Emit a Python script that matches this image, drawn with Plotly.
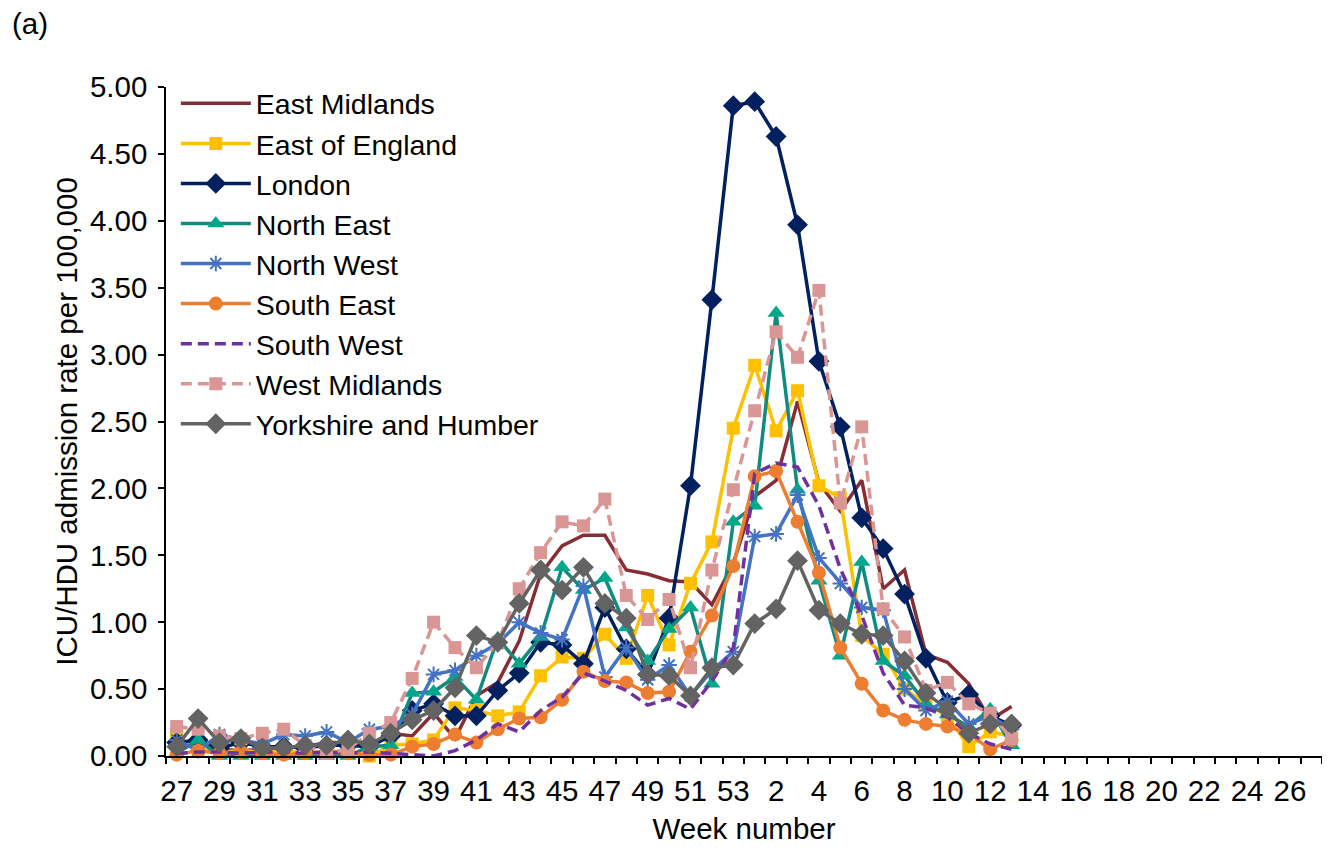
import plotly.graph_objects as go

# Week categories: weeks 27-53 (2020) then weeks 1-27 (2021)
weeks_2020 = list(range(27, 54))
weeks_2021 = list(range(1, 28))
cat_ids = [f"2020-W{w}" for w in weeks_2020] + [f"2021-W{w}" for w in weeks_2021]
week_nums = weeks_2020 + weeks_2021
labeled_weeks_2020 = list(range(27, 54, 2))
labeled_weeks_2021 = list(range(2, 27, 2))

# Data: weeks 27 (2020) to 13 (2021)
east_midlands = [0.05, 0.10, 0.05, 0.04, 0.05, 0.06, 0.07, 0.10, 0.10, 0.06,
                 0.17, 0.15, 0.32, 0.13, 0.45, 0.55, 0.86, 1.36, 1.57, 1.65,
                 1.65, 1.39, 1.36, 1.31, 1.30, 1.13, 1.44, 1.94, 2.06, 2.65,
                 2.04, 1.83, 2.06, 1.25, 1.39, 0.76, 0.70, 0.54, 0.27, 0.37]
east_of_england = [0.15, 0.05, 0.03, 0.04, 0.03, 0.04, 0.02, 0.04, 0.03, 0.00,
                   0.08, 0.09, 0.12, 0.36, 0.34, 0.30, 0.33, 0.60, 0.74, 0.73,
                   0.91, 0.73, 1.20, 0.83, 1.29, 1.60, 2.45, 2.92, 2.43, 2.73,
                   2.02, 1.93, 0.90, 0.76, 0.50, 0.39, 0.30, 0.07, 0.18, 0.15]
london = [0.10, 0.12, 0.06, 0.10, 0.07, 0.07, 0.06, 0.08, 0.08, 0.07,
          0.15, 0.34, 0.39, 0.30, 0.30, 0.49, 0.62, 0.85, 0.83, 0.69,
          1.11, 0.80, 0.61, 1.03, 2.02, 3.41, 4.86, 4.89, 4.63, 3.97,
          2.95, 2.46, 1.78, 1.55, 1.21, 0.73, 0.40, 0.46, 0.30, 0.23]
north_east = [0.02, 0.12, 0.00, 0.00, 0.00, 0.00, 0.00, 0.00, 0.00, 0.07,
              0.08, 0.47, 0.48, 0.59, 0.42, 0.88, 0.69, 0.89, 1.41, 1.24,
              1.33, 0.96, 0.71, 0.95, 1.11, 0.54, 1.75, 1.87, 3.31, 1.99,
              1.31, 0.75, 1.45, 0.71, 0.60, 0.39, 0.31, 0.22, 0.35, 0.08]
north_west = [0.12, 0.04, 0.16, 0.12, 0.09, 0.16, 0.15, 0.18, 0.10, 0.20,
              0.22, 0.31, 0.61, 0.64, 0.75, 0.84, 1.00, 0.92, 0.87, 1.27,
              0.59, 0.81, 0.57, 0.68, 0.45, 0.64, 0.78, 1.64, 1.66, 1.95,
              1.48, 1.29, 1.11, 1.09, 0.50, 0.34, 0.41, 0.24, 0.30, 0.20]
south_east = [0.01, 0.04, 0.02, 0.03, 0.02, 0.01, 0.02, 0.03, 0.02, 0.01,
              0.01, 0.07, 0.09, 0.16, 0.10, 0.20, 0.28, 0.29, 0.42, 0.63,
              0.56, 0.55, 0.47, 0.48, 0.78, 1.05, 1.42, 2.09, 2.13, 1.75,
              1.37, 0.81, 0.54, 0.34, 0.27, 0.24, 0.22, 0.17, 0.05, 0.12]
south_west = [0.02, 0.03, 0.03, 0.02, 0.03, 0.03, 0.02, 0.03, 0.02, 0.03,
              0.02, 0.01, 0.00, 0.04, 0.12, 0.24, 0.18, 0.34, 0.44, 0.62,
              0.56, 0.49, 0.38, 0.43, 0.35, 0.56, 0.81, 2.11, 2.19, 2.16,
              1.87, 1.40, 1.05, 0.62, 0.38, 0.36, 0.29, 0.17, 0.09, 0.05]
west_midlands = [0.22, 0.20, 0.15, 0.13, 0.17, 0.20, 0.08, 0.02, 0.05, 0.17,
                 0.25, 0.58, 1.00, 0.81, 0.66, 0.85, 1.25, 1.52, 1.75, 1.72,
                 1.92, 1.20, 1.02, 1.17, 0.66, 1.39, 1.99, 2.58, 3.17, 2.98,
                 3.48, 1.89, 2.46, 1.10, 0.89, 0.49, 0.55, 0.39, 0.32, 0.13]
yorkshire = [0.07, 0.28, 0.10, 0.13, 0.06, 0.06, 0.08, 0.08, 0.12, 0.09,
             0.17, 0.27, 0.34, 0.51, 0.90, 0.85, 1.14, 1.39, 1.24, 1.41,
             1.14, 1.03, 0.61, 0.60, 0.45, 0.66, 0.68, 0.99, 1.10, 1.46,
             1.09, 0.99, 0.91, 0.90, 0.71, 0.47, 0.35, 0.17, 0.24, 0.24]

series_names = ["East Midlands", "East of England", "London", "North East",
                "North West", "South East", "South West", "West Midlands",
                "Yorkshire and Humber"]
series_values = [east_midlands, east_of_england, london, north_east,
                 north_west, south_east, south_west, west_midlands, yorkshire]

styles = {
    "East Midlands": dict(color="#862D35", marker=None, dash="solid"),
    "East of England": dict(color="#FFC000", marker=("square", 13, "#FFC000"), dash="solid"),
    "London": dict(color="#002060", marker=("diamond", 16, "#002060"), dash="solid"),
    "North East": dict(color="#128A80", marker=("triangle-up", 15, "#00A88A"), dash="solid"),
    "North West": dict(color="#4472C4", marker=("asterisk-open", 13, "#4472C4"), dash="solid"),
    "South East": dict(color="#ED7D31", marker=("circle", 14, "#ED7D31"), dash="solid"),
    "South West": dict(color="#7030A0", marker=None, dash="11px,6px"),
    "West Midlands": dict(color="#DA9694", marker=("square", 13, "#DA9694"), dash="11px,6px"),
    "Yorkshire and Humber": dict(color="#636363", marker=("diamond", 16, "#636363"), dash="solid"),
}

FONT = "Liberation Sans, Arial, sans-serif"
FS = 29.5

# page has an 8px body margin, so plot area offsets are compensated
ML, MR, MT, MB = 158, 16, 79, 100
W, H = 1330, 848
PW = W - ML - MR
PH = H - MT - MB

fig = go.Figure()
for name, vals in zip(series_names, series_values):
    st = styles[name]
    x = cat_ids[:len(vals)]
    kw = dict(x=x, y=vals, name=name, legendgroup=name, cliponaxis=False,
              line=dict(color=st["color"], width=3.5, dash=st["dash"]))
    if st["marker"] is None:
        kw["mode"] = "lines"
    else:
        sym, size, mcol = st["marker"]
        kw["mode"] = "lines+markers"
        if sym == "asterisk-open":
            kw["marker"] = dict(symbol=sym, size=size, color=mcol, line=dict(color=mcol, width=2))
        else:
            kw["marker"] = dict(symbol=sym, size=size, color=mcol, line=dict(width=0))
    fig.add_trace(go.Scatter(**kw))

label_set = set(f"2020-W{w}" for w in labeled_weeks_2020) | set(f"2021-W{w}" for w in labeled_weeks_2021)
ticktext = [str(w) if cid in label_set else "" for cid, w in zip(cat_ids, week_nums)]

fig.update_layout(
    width=W, height=H,
    margin=dict(l=ML, r=MR, t=MT, b=MB),
    paper_bgcolor="white", plot_bgcolor="white",
    font=dict(family=FONT, size=FS, color="black"),
    showlegend=True,
    legend=dict(x=0.0085, y=1.013, xanchor="left", yanchor="top",
                font=dict(family=FONT, size=28.5), bgcolor="rgba(255,255,255,0)",
                itemwidth=70, tracegroupgap=0, traceorder="normal"),
    xaxis=dict(type="category", categoryorder="array", categoryarray=cat_ids,
               range=[-0.5, len(cat_ids) - 0.5], automargin=False,
               tickmode="array", tickvals=cat_ids, ticktext=ticktext, tickangle=0,
               tickson="boundaries", ticks="outside", ticklen=6, tickwidth=1.5,
               tickcolor="black", showline=True, linecolor="black", linewidth=1.5,
               showgrid=False, zeroline=False, ticklabelstandoff=8,
               title=dict(text="Week number", font=dict(size=FS), standoff=12)),
    yaxis=dict(range=[0, 5], dtick=0.5, tick0=0, tickformat=".2f", automargin=False,
               ticks="outside", ticklen=6, tickwidth=1.5, tickcolor="black",
               showline=True, linecolor="black", linewidth=1.5,
               showgrid=False, zeroline=False, ticklabelstandoff=5,
               title=dict(text="ICU/HDU admission rate per 100,000", font=dict(size=FS), standoff=4)),
    annotations=[dict(text="(a)", xref="paper", yref="paper",
                      x=(2 - ML) / PW, y=1 + (MT - 15) / PH,
                      xanchor="left", yanchor="middle", showarrow=False,
                      font=dict(size=FS))],
)

fig.write_html("out.html")
